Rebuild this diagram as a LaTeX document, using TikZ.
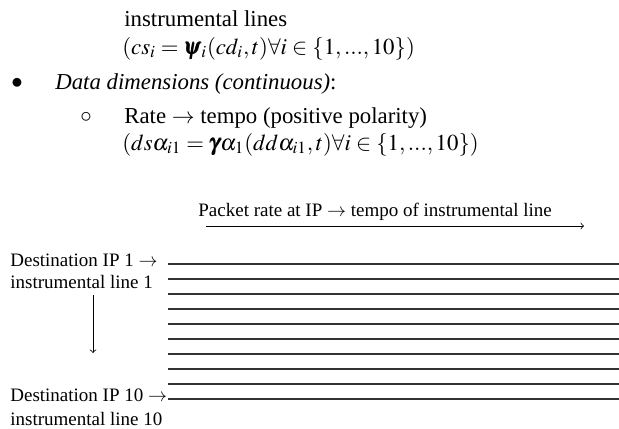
\documentclass[tikz,border=0pt]{standalone}
\usepackage{amsmath}
\usepackage{mathptmx}
\usepackage{fontspec}
\setmainfont{Liberation Serif}
\usepackage{tikz}
\usetikzlibrary{arrows}

\tikzset{
    big/.style={anchor=base west, inner sep=0pt, font=\fontsize{12}{14.4}\selectfont},
    lbl/.style={anchor=base west, inner sep=0pt, font=\fontsize{10}{12}\selectfont},
    staff/.style={black!80, line width=0.55pt}
}

\begin{document}
\begin{tikzpicture}[x=0.5263pt, y=-0.5263pt, >=to]
    \useasboundingbox (0,0) rectangle (619,428);

    % Texto da lista
    \node[big] (inst) at (124,26) {instrumental lines};
    \node[big] (eqcs) at (122,54) {$(cs_i = \pmb{\psi}_i(cd_i,t)\forall i \in \{1,...,10\})$};
    \node[big, anchor=center] (bul) at (17,84) {$\bullet$};
    \node[big] (dim) at (55,89) {\textit{Data dimensions (continuous)}:};
    \node[big, anchor=center] (circ) at (86,118) {$\circ$};
    \node[big] (rate) at (124,123) {Rate $\rightarrow$ tempo (positive polarity)};
    \node[big] (eqds) at (122,150) {$(ds\alpha_{i1} = \pmb{\gamma}\alpha_1(dd\alpha_{i1},t)\forall i \in \{1,...,10\})$};

    % Eixo do tempo
    \node[lbl] (pkt) at (198,216) {Packet rate at IP $\rightarrow$ tempo of instrumental line};
    \coordinate (t0) at (206,226);
    \coordinate (t1) at (584,226);
    \draw[->] (t0) -- (t1);

    % Linhas instrumentais
    \foreach \i in {1,...,10}
        \draw[staff] (168, 249+15*\i) -- (619, 249+15*\i);

    % Rotulos
    \node[lbl] (dst1) at (10,266) {Destination IP 1 $\rightarrow$};
    \node[lbl] (ins1) at (10,288) {instrumental line 1};
    \node[lbl] (dst10) at (10,401) {Destination IP 10 $\rightarrow$};
    \node[lbl] (ins10) at (10,425) {instrumental line 10};
    \coordinate (v0) at (93,295);
    \coordinate (v1) at (93,353);
    \draw[->] (v0) -- (v1);
\end{tikzpicture}
\end{document}
